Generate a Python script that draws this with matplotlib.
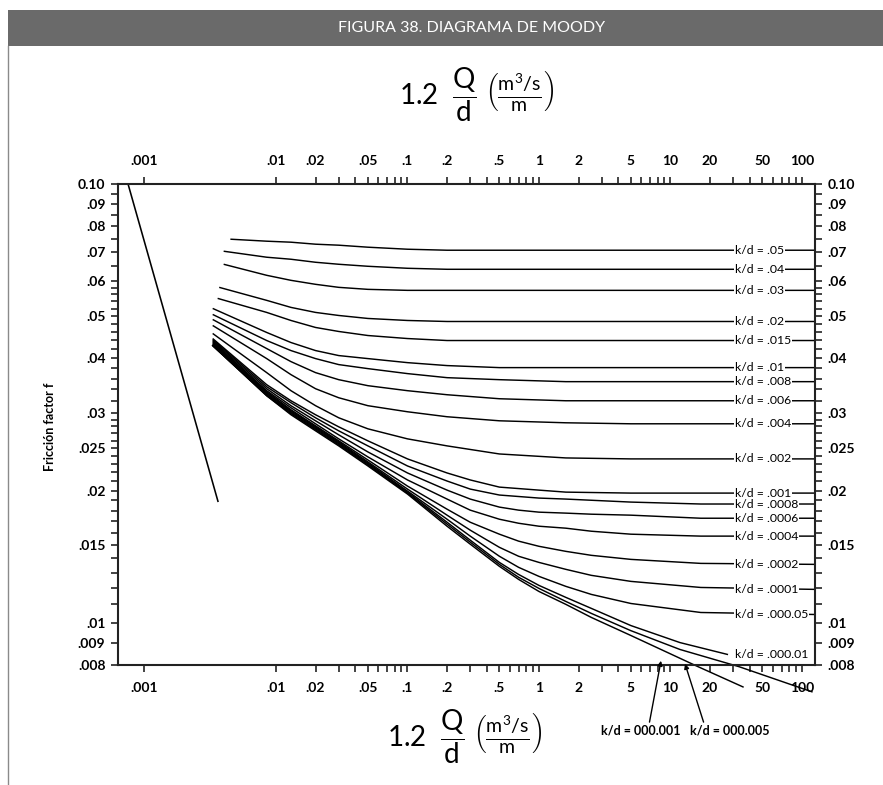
import matplotlib
matplotlib.use('Agg')
import matplotlib.pyplot as plt
from matplotlib.ticker import FixedLocator, FixedFormatter, NullFormatter
from matplotlib.patches import Rectangle
from matplotlib.lines import Line2D

plt.rcParams['font.family'] = ['Lato', 'DejaVu Sans']
plt.rcParams['mathtext.fontset'] = 'custom'
plt.rcParams['mathtext.rm'] = 'Lato'
plt.rcParams['mathtext.it'] = 'Lato:italic'
plt.rcParams['mathtext.bf'] = 'Lato:bold'

# ---------------- data ----------------
title = "FIGURA 38. DIAGRAMA DE MOODY"
ylabel = "Fricción factor f"

x_ticks = [0.001, 0.01, 0.02, 0.05, 0.1, 0.2, 0.5, 1, 2, 5, 10, 20, 50, 100]
x_tick_labels = ['.001', '.01', '.02', '.05', '.1', '.2', '.5', '1', '2', '5', '10', '20', '50', '100']
x_minor_ticks = [0.03, 0.04, 0.06, 0.07, 0.08, 0.09, 0.3, 0.4, 0.6, 0.7, 0.8, 0.9,
                 3, 4, 6, 7, 8, 9, 30, 40, 60, 70, 80, 90]

y_ticks = [0.1, 0.09, 0.08, 0.07, 0.06, 0.05, 0.04, 0.03, 0.025, 0.02, 0.015, 0.01, 0.009, 0.008]
y_tick_labels = ['0.10', '.09', '.08', '.07', '.06', '.05', '.04', '.03', '.025', '.02', '.015', '.01', '.009', '.008']
y_minor_ticks = [0.095, 0.085, 0.075, 0.065, 0.058, 0.056, 0.054, 0.052, 0.048, 0.046, 0.044, 0.042,
                 0.038, 0.036, 0.034, 0.032, 0.029, 0.028, 0.027, 0.026, 0.024, 0.023, 0.022, 0.021,
                 0.019, 0.018, 0.017, 0.016, 0.014, 0.013, 0.012, 0.011]

laminar_x = [0.00075, 0.00362]
laminar_f = [0.100, 0.0189]

kd_050_x = [0.0045, 0.0085, 0.013, 0.02, 0.03, 0.05, 0.1, 0.2, 125]
kd_050_f = [0.07484, 0.07406, 0.07367, 0.07290, 0.07252, 0.07176, 0.07100, 0.07063, 0.07063]
kd_040_x = [0.004, 0.0085, 0.013, 0.02, 0.03, 0.05, 0.1, 0.2, 125]
kd_040_f = [0.07026, 0.06808, 0.06736, 0.06630, 0.06561, 0.06492, 0.06424, 0.06390, 0.06390]
kd_030_x = [0.004, 0.0085, 0.013, 0.02, 0.03, 0.05, 0.1, 125]
kd_030_f = [0.06561, 0.06191, 0.06030, 0.05905, 0.05812, 0.05751, 0.05721, 0.05721]
kd_020_x = [0.0037, 0.0085, 0.013, 0.02, 0.03, 0.05, 0.1, 0.2, 125]
kd_020_f = [0.05812, 0.05428, 0.05231, 0.05095, 0.05014, 0.04936, 0.04884, 0.04858, 0.04858]
kd_015_x = [0.0036, 0.0085, 0.013, 0.02, 0.03, 0.05, 0.1, 0.2, 125]
kd_015_f = [0.05485, 0.05095, 0.04884, 0.04708, 0.04610, 0.04513, 0.04442, 0.04396, 0.04396]
kd_010_x = [0.0033, 0.0085, 0.013, 0.02, 0.03, 0.05, 0.1, 0.2, 0.5, 125]
kd_010_f = [0.05203, 0.04586, 0.04350, 0.04170, 0.04062, 0.03998, 0.03914, 0.03854, 0.03813, 0.03813]
kd_008_x = [0.0033, 0.0085, 0.013, 0.02, 0.03, 0.05, 0.1, 0.2, 0.5, 1.6, 125]
kd_008_f = [0.05041, 0.04396, 0.04170, 0.03998, 0.03874, 0.03793, 0.03695, 0.03617, 0.03579, 0.03542, 0.03542]
kd_006_x = [0.0033, 0.0085, 0.013, 0.02, 0.03, 0.05, 0.1, 0.2, 0.5, 1.6, 125]
kd_006_f = [0.04910, 0.04214, 0.03935, 0.03714, 0.03579, 0.03468, 0.03378, 0.03307, 0.03238, 0.03204, 0.03204]
kd_004_x = [0.0033, 0.0085, 0.013, 0.02, 0.03, 0.05, 0.1, 0.2, 0.5, 1.6, 5, 125]
kd_004_f = [0.04758, 0.03998, 0.03675, 0.03413, 0.03255, 0.03122, 0.03024, 0.02946, 0.02884, 0.02854, 0.02839, 0.02839]
kd_002_x = [0.0033, 0.0085, 0.013, 0.02, 0.03, 0.05, 0.1, 0.2, 0.5, 1.6, 5, 125]
kd_002_f = [0.04562, 0.03714, 0.03378, 0.03122, 0.02930, 0.02765, 0.02623, 0.02528, 0.02423, 0.02373, 0.02361, 0.02361]
kd_001_x = [0.0033, 0.0085, 0.013, 0.02, 0.03, 0.05, 0.1, 0.2, 0.3, 0.5, 1.0, 1.6, 5, 125]
kd_001_f = [0.04442, 0.03486, 0.03204, 0.02977, 0.02794, 0.02596, 0.02361, 0.02193, 0.02114, 0.02036, 0.02004, 0.01983, 0.01973, 0.01973]
kd_0008_x = [0.0033, 0.0085, 0.013, 0.02, 0.03, 0.05, 0.1, 0.2, 0.3, 0.5, 1.0, 1.6, 5, 17, 125]
kd_0008_f = [0.04419, 0.03449, 0.03171, 0.02930, 0.02736, 0.02528, 0.02275, 0.02102, 0.02015, 0.01953, 0.01922, 0.01912, 0.01882, 0.01863, 0.01863]

grid_x = [0.0033, 0.0085, 0.013, 0.02, 0.03, 0.05, 0.1, 0.2, 0.3, 0.5, 0.7, 1.0, 1.6, 2.5, 5, 17, 125]
kd_0006_f = [0.04396, 0.03413, 0.03122, 0.02884, 0.02679, 0.02449, 0.02193, 0.02004, 0.01912, 0.01833, 0.01804, 0.01785, 0.01776, 0.01766, 0.01757, 0.01729, 0.01729]
kd_0004_f = [0.04373, 0.03378, 0.03089, 0.02839, 0.02623, 0.02386, 0.02114, 0.01912, 0.01804, 0.01720, 0.01684, 0.01658, 0.01641, 0.01615, 0.01590, 0.01574, 0.01574]
kd_0002_f = [0.04350, 0.03360, 0.03056, 0.02809, 0.02596, 0.02348, 0.02047, 0.01813, 0.01693, 0.01590, 0.01533, 0.01492, 0.01453, 0.01423, 0.01393, 0.01364, 0.01357]
kd_0001_f = [0.04327, 0.03342, 0.03040, 0.02794, 0.02582, 0.02324, 0.02015, 0.01757, 0.01624, 0.01484, 0.01416, 0.01371, 0.01322, 0.01281, 0.01241, 0.01202, 0.01190]
kd_00005_f = [0.04304, 0.03325, 0.03024, 0.02780, 0.02568, 0.02311, 0.01994, 0.01720, 0.01574, 0.01416, 0.01336, 0.01274, 0.01209, 0.01159, 0.01105, 0.01054, 0.01043]

kd_00001_x = [0.0033, 0.0085, 0.013, 0.02, 0.03, 0.05, 0.1, 0.2, 0.3, 0.5, 0.7, 1.0, 1.6, 2.5, 5, 11.8, 27.4]
kd_00001_f = [0.04281, 0.03307, 0.03008, 0.02765, 0.02555, 0.02299, 0.01983, 0.01693, 0.01541, 0.01371, 0.01287, 0.01215, 0.01141, 0.01077, 0.00984, 0.00900, 0.00845]
kd_000005_x = [0.0033, 0.0085, 0.013, 0.02, 0.03, 0.05, 0.1, 0.2, 0.3, 0.5, 0.7, 1.0, 1.6, 2.5, 5, 11.8, 33.2, 119]
kd_000005_f = [0.04281, 0.03290, 0.02993, 0.02751, 0.02541, 0.02287, 0.01973, 0.01676, 0.01525, 0.01357, 0.01268, 0.01196, 0.01117, 0.01049, 0.00958, 0.00868, 0.00793, 0.00695]
kd_000001_x = [0.0033, 0.0085, 0.013, 0.02, 0.03, 0.05, 0.1, 0.2, 0.3, 0.5, 0.7, 1.0, 1.6, 2.5, 5, 16.2, 35.6]
kd_000001_f = [0.04281, 0.03290, 0.02977, 0.02736, 0.02528, 0.02275, 0.01963, 0.01658, 0.01509, 0.01343, 0.01254, 0.01177, 0.01100, 0.01027, 0.00934, 0.00793, 0.00713]

curves = [
    ('k/d = .05', kd_050_x, kd_050_f),
    ('k/d = .04', kd_040_x, kd_040_f),
    ('k/d = .03', kd_030_x, kd_030_f),
    ('k/d = .02', kd_020_x, kd_020_f),
    ('k/d = .015', kd_015_x, kd_015_f),
    ('k/d = .01', kd_010_x, kd_010_f),
    ('k/d = .008', kd_008_x, kd_008_f),
    ('k/d = .006', kd_006_x, kd_006_f),
    ('k/d = .004', kd_004_x, kd_004_f),
    ('k/d = .002', kd_002_x, kd_002_f),
    ('k/d = .001', kd_001_x, kd_001_f),
    ('k/d = .0008', kd_0008_x, kd_0008_f),
    ('k/d = .0006', grid_x, kd_0006_f),
    ('k/d = .0004', grid_x, kd_0004_f),
    ('k/d = .0002', grid_x, kd_0002_f),
    ('k/d = .0001', grid_x, kd_0001_f),
    ('k/d = .000.05', grid_x, kd_00005_f),
    ('k/d = .000.01', kd_00001_x, kd_00001_f),
]
pointer_curves = [
    ('k/d = 000.001', kd_000001_x, kd_000001_f),
    ('k/d = 000.005', kd_000005_x, kd_000005_f),
]
label_x = 31.0

# ---------------- figure ----------------
W, H = 883, 785
fig = plt.figure(figsize=(W / 100, H / 100), dpi=100)
fig.patch.set_facecolor('white')

# header band and frame line
fig.add_artist(Rectangle((8 / W, 1 - 46 / H), 1 - 8 / W, 36 / H, transform=fig.transFigure,
                         facecolor='#6a6a6a', edgecolor='none'))
fig.text(472 / W, 1 - 28 / H, title, color='white', fontsize=11.5, ha='center', va='center')
fig.add_artist(Line2D([8 / W, 8 / W], [0, 1 - 46 / H], transform=fig.transFigure,
                      color='#8a8a8a', lw=1.0))

ax = fig.add_axes([118 / W, 1 - 665 / H, (815 - 118) / W, (665 - 184) / H])
ax.set_xscale('log')
ax.set_yscale('log')
ax.set_xlim(0.000629, 125.6)
ax.set_ylim(0.008, 0.1)

lw = 1.05
ax.plot(laminar_x, laminar_f, color='black', lw=lw + 0.1)
for lab, xs, fs in curves:
    ax.plot(xs, fs, color='black', lw=lw, solid_capstyle='butt', solid_joinstyle='round')
    ax.text(label_x, fs[-1], lab, fontsize=8.8, ha='left', va='center', zorder=5,
            bbox=dict(facecolor='white', edgecolor='none', pad=0.5))
for lab, xs, fs in pointer_curves:
    ax.plot(xs, fs, color='black', lw=lw, clip_on=False, solid_joinstyle='round')

# pointer labels below the axis
ax.annotate(pointer_curves[0][0], xy=(8.47, 0.00818), xytext=(5.97, 0.00566),
            textcoords='data', ha='center', va='center', fontsize=9, fontweight='bold',
            annotation_clip=False,
            arrowprops=dict(arrowstyle='-|>', color='black', lw=1.0, shrinkA=0, shrinkB=0,
                            relpos=(0.6, 1.0), mutation_scale=7))
ax.annotate(pointer_curves[1][0], xy=(12.9, 0.00805), xytext=(28.3, 0.00566),
            textcoords='data', ha='center', va='center', fontsize=9, fontweight='bold',
            annotation_clip=False,
            arrowprops=dict(arrowstyle='-|>', color='black', lw=1.0, shrinkA=0, shrinkB=0,
                            relpos=(0.18, 1.0), mutation_scale=7))

# ticks
ax.xaxis.set_major_locator(FixedLocator(x_ticks))
ax.xaxis.set_major_formatter(FixedFormatter(x_tick_labels))
ax.xaxis.set_minor_locator(FixedLocator(x_minor_ticks))
ax.xaxis.set_minor_formatter(NullFormatter())
ax.yaxis.set_major_locator(FixedLocator(y_ticks))
ax.yaxis.set_major_formatter(FixedFormatter(y_tick_labels))
ax.yaxis.set_minor_locator(FixedLocator(y_minor_ticks))
ax.yaxis.set_minor_formatter(NullFormatter())

ax.tick_params(axis='both', which='both', direction='out', length=5, width=1.1, color='#111111',
               top=True, right=True)
ax.tick_params(axis='x', which='major', labeltop=True, labelbottom=True, pad=7, labelsize=10)
ax.tick_params(axis='y', which='major', labelleft=True, labelright=True, pad=4, labelsize=10)
for tk in ax.xaxis.get_major_ticks() + ax.yaxis.get_major_ticks():
    tk.label1.set_fontweight('bold')
    tk.label2.set_fontweight('bold')

for sp in ax.spines.values():
    sp.set_linewidth(1.5)
    sp.set_color('#222222')

fig.text(50 / W, 1 - 427 / H, ylabel, rotation=90, fontsize=9, fontweight='bold',
         ha='center', va='center')

formula = r'$\mathrm{1.2}\ \ \dfrac{\mathrm{Q}}{\mathrm{d}}\ \left(\frac{\mathrm{m^3/s}}{\mathrm{m}}\right)$'
fig.text(477 / W, 1 - 95 / H, formula, fontsize=20, ha='center', va='center')
fig.text(465 / W, 1 - 737 / H, formula, fontsize=20, ha='center', va='center')

fig.savefig('out.png', dpi=100, facecolor='white')
